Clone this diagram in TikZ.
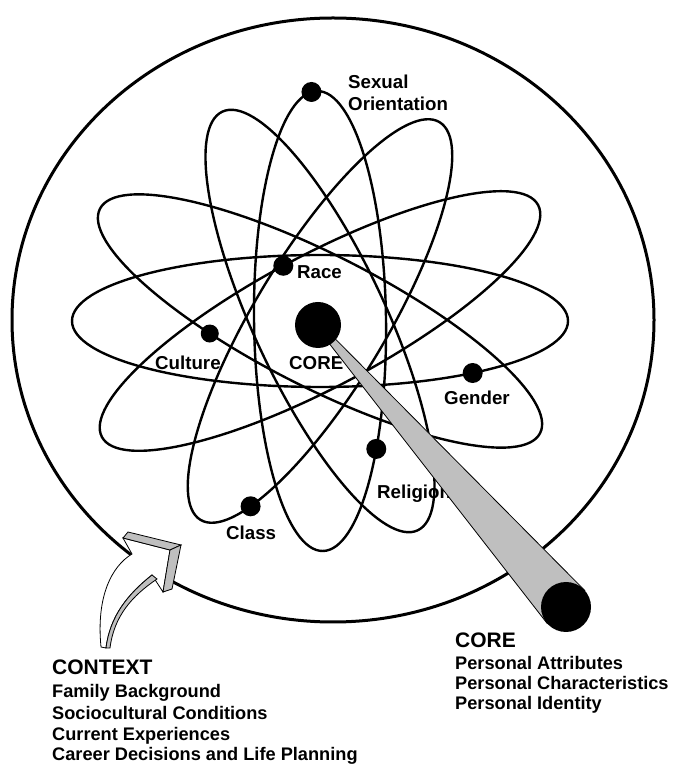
\documentclass[tikz,border=0pt]{standalone}
\usepackage{fontspec}
\setmainfont{Liberation Sans}
\usetikzlibrary{calc,positioning}

\begin{document}
\begin{tikzpicture}[x=1pt,y=1pt,
  orbit/.style={line width=2.4pt},
  electron/.style={circle,fill=black,inner sep=0pt,minimum size=20pt},
  lbl/.style={inner sep=0pt,anchor=base west,font=\fontsize{18.7}{22}\selectfont\bfseries},
  listlbl/.style={inner sep=0pt,anchor=base west,font=\fontsize{18.2}{22}\selectfont\bfseries},
  headlbl/.style={inner sep=0pt,anchor=base west,font=\fontsize{21}{25}\selectfont\bfseries},
  band/.style={fill=gray!50,line width=0.8pt}]

\useasboundingbox (0,0) rectangle (674,766);

\draw[line width=3pt] (333,446) ellipse (321 and 302);

\coordinate (mid) at (320,445);
\foreach \ang/\len in {0/248,28/247,-27/247,90.7/230,115/231,59/232}
  \draw[orbit,rotate around={\ang:(mid)}] (mid) ellipse [x radius=\len,y radius=66];

\begin{scope}[shift={(mid)},rotate=90.7]
  \node[electron] (sexual) at (5:230 and 66) {};
  \node[electron] (religion) at (236:230 and 66) {};
\end{scope}
\begin{scope}[shift={(mid)},rotate=28]
  \node[electron] (race) at (91.5:247 and 66) {};
\end{scope}
\begin{scope}[shift={(mid)},rotate=-27]
  \node[electron,minimum size=18pt] (culture) at (248:247 and 66) {};
\end{scope}
\begin{scope}[shift={(mid)}]
  \node[electron] (gender) at (-52:248 and 66) {};
\end{scope}
\begin{scope}[shift={(mid)},rotate=59]
  \node[electron] (class) at (213:232 and 66) {};
\end{scope}

\node[lbl] (sexlbl) at (348,677.5) {Sexual};
\node[lbl] (orilbl) at (348,655.5) {Orientation};
\node[lbl] (racelbl) at (297,487.5) {Race};
\node[lbl] (cultlbl) at (155,396.5) {Culture};
\node[lbl] (corelbl) at (289,396.5) {CORE};
\node[lbl] (genlbl) at (444,361.5) {Gender};
\node[lbl] (rellbl) at (377,267.5) {Religion};
\node[lbl] (classlbl) at (226,226.5) {Class};

% pointer to the core
\coordinate (corept) at (318,441);
\coordinate (tip) at (566,159);
\filldraw[band] ($(corept)!2.5pt!90:(tip)$) -- ($(tip)!25pt!-90:(corept)$)
  -- ($(tip)!25pt!90:(corept)$) -- ($(corept)!2.5pt!-90:(tip)$) -- cycle;
\node[circle,fill=black,inner sep=0pt,minimum size=46pt] (core) at (corept) {};
\node[circle,fill=black,inner sep=0pt,minimum size=50pt] (pin) at (tip) {};

% arrow into the context
\filldraw[fill=white,line width=0.8pt] (101,119) .. controls (96,170) and (112,200) .. (132,212)
  -- (123,228) -- (170,216) -- (163,174) -- (152,191)
  .. controls (128,172) and (110,150) .. (106,118) -- cycle;
\filldraw[band] (123,228) -- (128,234) -- (181,221) -- (170,216) -- cycle;
\filldraw[band] (170,216) -- (181,221) -- (172,177) -- (163,174) -- cycle;
\filldraw[band] (152,191) .. controls (128,172) and (110,150) .. (106,118)
  -- (110,118) .. controls (114,150) and (132,170) .. (157,187) -- cycle;

\node[headlbl] (ctxhead) at (52,91.5) {CONTEXT};
\node[listlbl] (ctx1) at (52,68.5) {Family Background};
\node[listlbl] (ctx2) at (52,46.7) {Sociocultural Conditions};
\node[listlbl] (ctx3) at (52,25.7) {Current Experiences};
\node[listlbl] (ctx4) at (52,5.5) {Career Decisions and Life Planning};

\node[headlbl] (corehead) at (455,118.5) {CORE};
\node[listlbl] (core1) at (455,96.2) {Personal Attributes};
\node[listlbl] (core2) at (455,76.2) {Personal Characteristics};
\node[listlbl] (core3) at (455,56.2) {Personal Identity};

\end{tikzpicture}
\end{document}
